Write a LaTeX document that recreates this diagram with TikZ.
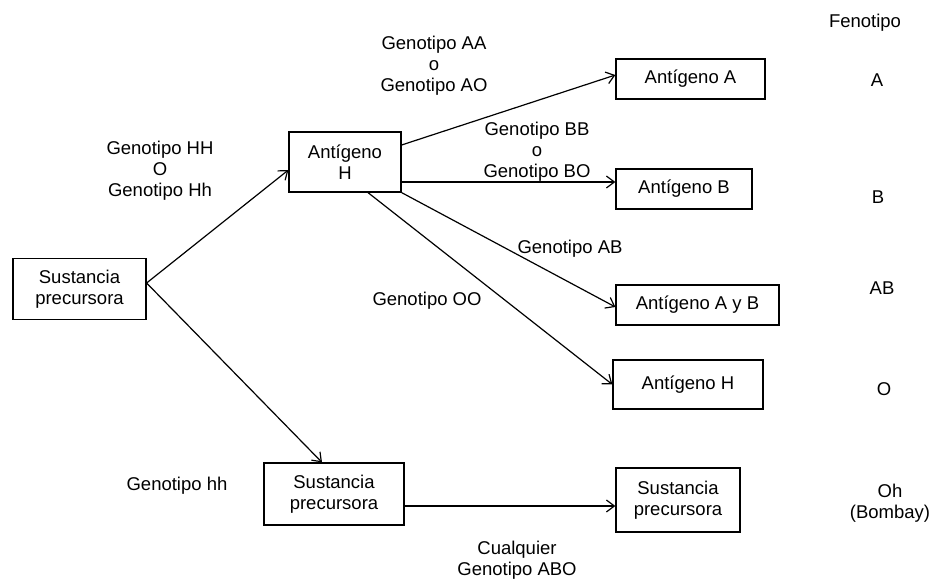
\documentclass[tikz,border=0pt]{standalone}
\usepackage{fontspec}
\setmainfont{Liberation Sans}
\usetikzlibrary{arrows.meta}

\begin{document}
\begin{tikzpicture}[x=1pt, y=-1pt, line width=1.2pt, font=\fontsize{18.5}{21}\selectfont, main/.style = {draw, rectangle, align=center, inner sep=0pt}, lbl/.style = {align=center, inner sep=0pt}, >={Straight Barb[length=8pt, width=12pt]}]
\useasboundingbox (0,0) rectangle (935,586);
\node[main, minimum width=133, minimum height=61] (p1) at (79.5,289) {Sustancia\\precursora};
\node[main, minimum width=112, minimum height=60] (h) at (345,162) {Antígeno\\H};
\node[main, minimum width=149, minimum height=40] (a) at (690.5,79) {Antígeno A};
\node[main, minimum width=136, minimum height=40] (b) at (684,189) {Antígeno B};
\node[main, minimum width=163, minimum height=40] (ab) at (697.5,305) {Antígeno A y B};
\node[main, minimum width=150, minimum height=49] (h2) at (688,384.5) {Antígeno H};
\node[main, minimum width=140, minimum height=62] (p2) at (334,494) {Sustancia\\precursora};
\node[main, minimum width=124, minimum height=64] (p3) at (678,500) {Sustancia\\precursora};
\node[lbl] (gh) at (160,171) {Genotipo HH\\O\\Genotipo Hh};
\node[lbl] (ga) at (434,66) {Genotipo AA\\o\\Genotipo AO};
\node[lbl] (gb) at (537,152) {Genotipo BB\\o\\Genotipo BO};
\node[lbl] (gab) at (570,249) {Genotipo AB};
\node[lbl] (go) at (427,301) {Genotipo OO};
\node[lbl] (ghh) at (177,486) {Genotipo hh};
\node[lbl] (gabo) at (517,560) {Cualquier\\Genotipo ABO};
\node[lbl] (fen) at (865,23) {Fenotipo};
\node[lbl] (fa) at (877,80) {A};
\node[lbl] (fb) at (878,197) {B};
\node[lbl] (fab) at (882,288) {AB};
\node[lbl] (fo) at (884,389) {O};
\node[lbl] (fbom) at (890,503) {Oh\\(Bombay)};
\draw[->] ([yshift=6pt]p1.east) -- ([yshift=-8pt]h.west);
\draw[->] ([yshift=6pt]p1.east) -- ([xshift=-12pt]p2.north);
\draw[->] ([yshift=17pt]h.east) -- ([yshift=4pt]a.west);
\draw[->] ([yshift=-20pt]h.east) -- ([yshift=7pt]b.west);
\draw[->] (h.south east) -- ([yshift=-2pt]ab.west);
\draw[->] ([xshift=23pt]h.south) -- (h2.west);
\draw[->] ([yshift=-12pt]p2.east) -- ([yshift=-6pt]p3.west);
\end{tikzpicture}
\end{document}
